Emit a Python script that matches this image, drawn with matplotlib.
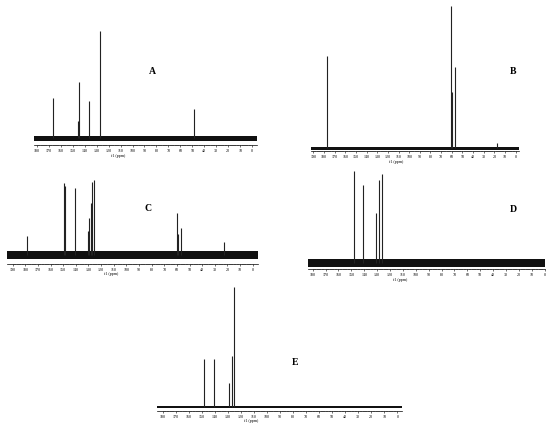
#!/usr/bin/env python3
import numpy as np
import matplotlib
matplotlib.use('Agg')
import matplotlib.pyplot as plt

# Figure size in pixels
FIG_W, FIG_H = 550, 435

# Peak positions (ppm) and heights for each spectrum
a_ppm = [166.5, 145.2, 144.3, 136.3, 127.4, 48.5]
a_int = [40, 17, 56, 37, 107, 29]

b_ppm = [177.5, 60.5, 60.0, 57.0, 17.2]
b_int = [92, 142, 56, 81, 5]

c_ppm = [178.9, 149.6, 148.4, 141.0, 130.4, 129.6, 128.0, 127.2, 126.0, 60.2, 58.9, 56.8, 22.7]
c_int = [19, 72, 69, 67, 24, 37, 52, 73, 75, 42, 21, 27, 13]

d_ppm = [148.3, 140.9, 130.8, 128.2, 126.4]
d_int = [92, 78, 50, 83, 89]

e_ppm = [148.6, 140.4, 129.4, 127.1, 125.6]
e_int = [48, 48, 24, 51, 120]

panel_names = ['A', 'B', 'C', 'D', 'E']
tick_tops = [180, 190, 190, 180, 180]


def add_spectrum(fig, box, xlim, ylim, ppm, intensity, tick_top, noise_px, name_xy, name):
    """Draw one spectrum panel. box = (left, top, right, bottom) in pixels."""
    left, top, right, bottom = box
    ax = fig.add_axes([left / FIG_W, 1 - bottom / FIG_H,
                       (right - left) / FIG_W, (bottom - top) / FIG_H])
    # noise floor drawn as a solid band
    ax.axhline(0, color='#111111', lw=noise_px * 0.72, zorder=1)
    ax.vlines(ppm, 0, intensity, color='#222222', lw=0.8, zorder=2)

    ax.set_xlim(*xlim)
    ax.set_ylim(*ylim)
    for s in ['top', 'left', 'right']:
        ax.spines[s].set_visible(False)
    ax.spines['bottom'].set_linewidth(0.5)
    ax.set_yticks([])
    ax.set_xticks(np.arange(0, tick_top + 1, 10))
    ax.set_xticks(np.arange(0, tick_top + 1, 2), minor=True)
    ax.tick_params(axis='x', which='major', length=1.6, width=0.4, pad=0.8,
                   labelsize=3)
    ax.tick_params(axis='x', which='minor', length=1.0, width=0.3)
    for lab in ax.get_xticklabels():
        lab.set_fontfamily('Liberation Serif')
    ax.patch.set_alpha(0)

    ax.annotate('f1 (ppm)', xy=(112, 0), xycoords=('data', 'axes fraction'),
                xytext=(0, -7.5), textcoords='offset pixels', ha='center', va='top',
                fontsize=3, family='Liberation Serif')

    fig.text(name_xy[0] / FIG_W, 1 - name_xy[1] / FIG_H, name,
             fontsize=7, fontweight='bold', family='Liberation Serif',
             ha='center', va='center')
    return ax


def main():
    fig = plt.figure(figsize=(FIG_W / 100, FIG_H / 100), dpi=100)

    add_spectrum(fig, (34, 25, 257, 146), (182.3, -4.0), (-7, 114),
                 a_ppm, a_int, tick_tops[0], 5, (152, 71), panel_names[0])
    add_spectrum(fig, (311, 5, 519, 152), (192.2, -3.1), (-2.7, 144.3),
                 b_ppm, b_int, tick_tops[1], 3, (513, 71), panel_names[1])
    add_spectrum(fig, (7, 175, 258, 265), (194.5, -4.2), (-9, 81),
                 c_ppm, c_int, tick_tops[2], 8, (148, 209), panel_names[2])
    add_spectrum(fig, (308, 165, 545, 270), (183.6, -0.2), (-6, 99),
                 d_ppm, d_int, tick_tops[3], 8, (513, 210), panel_names[3])
    add_spectrum(fig, (157, 283, 402, 411.7), (184.4, -3.5), (-4, 124.7),
                 e_ppm, e_int, tick_tops[4], 2, (295, 363), panel_names[4])

    fig.savefig('out.png', dpi=100)
    plt.close(fig)


if __name__ == "__main__":
    main()
